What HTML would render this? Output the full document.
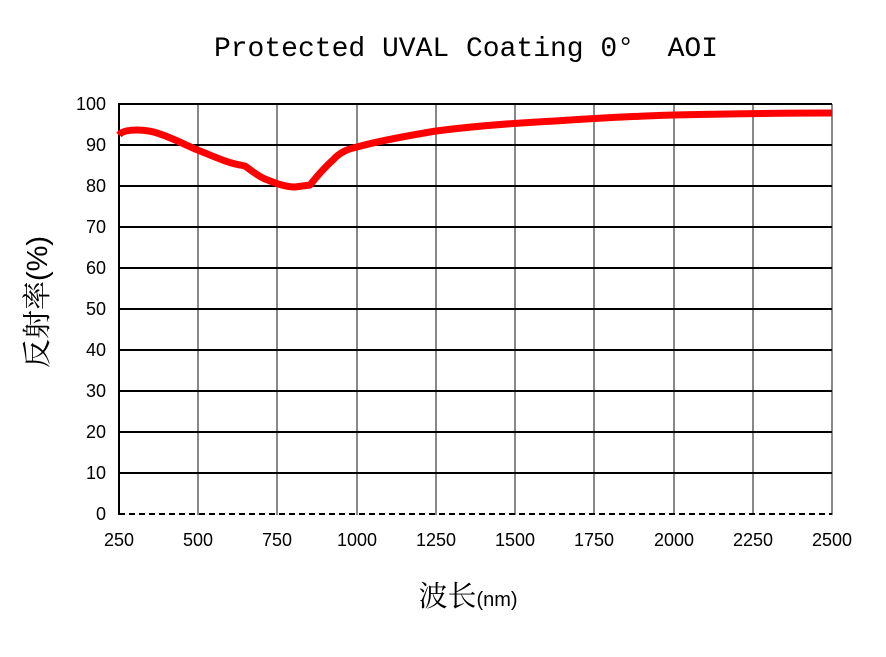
<!DOCTYPE html>
<html><head><meta charset="utf-8"><style>body{margin:0;background:#fff}</style></head><body>
<svg width="886" height="652" xmlns="http://www.w3.org/2000/svg">
<rect width="886" height="652" fill="#fff"/>
<text x="466" y="56" text-anchor="middle" font-family="Liberation Mono, monospace" font-size="28" style="white-space:pre">Protected UVAL Coating 0°  AOI</text>
<g stroke="#888" stroke-width="2">
<line x1="198" y1="104" x2="198" y2="515"/><line x1="277" y1="104" x2="277" y2="515"/><line x1="357" y1="104" x2="357" y2="515"/><line x1="436" y1="104" x2="436" y2="515"/><line x1="515" y1="104" x2="515" y2="515"/><line x1="594" y1="104" x2="594" y2="515"/><line x1="674" y1="104" x2="674" y2="515"/><line x1="753" y1="104" x2="753" y2="515"/><line x1="832" y1="104" x2="832" y2="515"/>
</g>
<g stroke="#000" stroke-width="2">
<line x1="119" y1="104" x2="832" y2="104"/><line x1="119" y1="145" x2="832" y2="145"/><line x1="119" y1="186" x2="832" y2="186"/><line x1="119" y1="227" x2="832" y2="227"/><line x1="119" y1="268" x2="832" y2="268"/><line x1="119" y1="309" x2="832" y2="309"/><line x1="119" y1="350" x2="832" y2="350"/><line x1="119" y1="391" x2="832" y2="391"/><line x1="119" y1="432" x2="832" y2="432"/><line x1="119" y1="473" x2="832" y2="473"/>
<line x1="119" y1="514" x2="832" y2="514" stroke-dasharray="6,4"/>
<line x1="119" y1="103" x2="119" y2="515"/>
</g>
<path d="M119,135 C122,131 130,130 137,130 C145,130 152,131 160,134 C175,139 185,145 200,151 C215,157 228,163 240,165 L245,166 C252,171 258,176 265,179 C275,183 285,187 295,187 L310,185 C318,175 325,167 333,160 C340,152 348,149 357,147 C375,142 400,137 436,131 C475,126 515,123 555,121 C600,118 640,116 674,115 C720,114 780,113 832,113" fill="none" stroke="#f00" stroke-width="7" stroke-linejoin="round"/>
<g font-family="Liberation Sans, sans-serif" font-size="18" text-anchor="end">
<text x="106" y="110">100</text><text x="106" y="151">90</text><text x="106" y="192">80</text><text x="106" y="233">70</text><text x="106" y="274">60</text><text x="106" y="315">50</text><text x="106" y="356">40</text><text x="106" y="397">30</text><text x="106" y="438">20</text><text x="106" y="479">10</text><text x="106" y="520">0</text>
</g>
<g font-family="Liberation Sans, sans-serif" font-size="18" text-anchor="middle">
<text x="119" y="546">250</text><text x="198" y="546">500</text><text x="277" y="546">750</text><text x="357" y="546">1000</text><text x="436" y="546">1250</text><text x="515" y="546">1500</text><text x="594" y="546">1750</text><text x="674" y="546">2000</text><text x="753" y="546">2250</text><text x="832" y="546">2500</text>
</g>
<text x="468" y="606" text-anchor="middle" font-family="Liberation Sans, 'Noto Serif CJK SC', serif" font-size="29">波长<tspan font-size="20">(nm)</tspan></text>
<text transform="translate(47,302) rotate(-90)" text-anchor="middle" font-family="Liberation Sans, 'Noto Serif CJK SC', serif" font-size="29">反射率(%)</text>
</svg>
</body></html>
